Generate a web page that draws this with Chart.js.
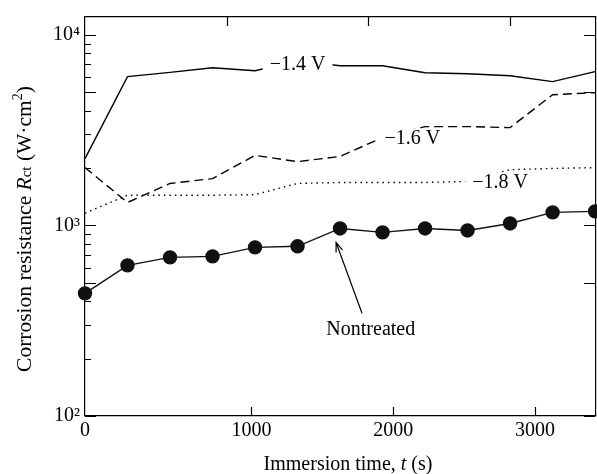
<!DOCTYPE html>
<html lang="en">
<head>
    <meta charset="UTF-8">
    <title>Corrosion resistance vs immersion time</title>
    <script src="https://cdn.jsdelivr.net/npm/chart.js"></script>
    <style>
        html, body {
            margin: 0;
            padding: 0;
            background: #fff;
            overflow: hidden;
        }
        /* the original figure is cropped on the right, so the plot runs past the window edge */
        .chart-box {
            width: 603px;
            height: 474px;
        }
    </style>
</head>
<body>
    <div class="chart-box">
        <canvas id="rctChart"></canvas>
    </div>

    <script>
        // immersion time (s), one reading every 300 s
        const times = [0, 300, 600, 900, 1200, 1500, 1800, 2100, 2400, 2700, 3000, 3300, 3600];

        // Rct values (W·cm²)
        const rct14 = [2240, 6030, 6350, 6720, 6480, 7300, 6880, 6880, 6320, 6250, 6100, 5680, 6410];
        const rct16 = [2010, 1320, 1660, 1760, 2330, 2160, 2300, 2890, 3300, 3300, 3260, 4850, 4970];
        const rct18 = [1160, 1440, 1440, 1440, 1450, 1660, 1680, 1680, 1680, 1700, 1960, 1990, 2010];
        const nontreated = [440, 617, 680, 688, 767, 777, 964, 919, 964, 941, 1024, 1170, 1184];

        // bottom axis: its labels sit a little off the data axis in the original figure
        const xTopTicks = [1000, 2000, 3000];
        const xTickValues = [-175, 1000, 2000, 3000];
        const xTickLabels = ['0', '1000', '2000', '3000'];
        const yTickValues = [100, 200, 300, 400, 500, 600, 700, 800, 900,
                             1000, 2000, 3000, 4000, 5000, 6000, 7000, 8000, 9000, 10000];
        const yLongTicks = [100, 500, 1000, 5000, 10000];
        const yTickLabels = { 100: '10²', 1000: '10³', 10000: '10⁴' };

        const serif = "'Liberation Serif', 'DejaVu Serif', serif";
        Chart.defaults.font.family = serif;
        Chart.defaults.font.size = 20;
        Chart.defaults.color = '#000';

        function series(values) {
            return times.map((t, i) => ({ x: t, y: values[i] }));
        }

        // text labels sitting on white boxes over the curves
        const curveLabels = [
            { text: '−1.4 V', t: 1500, v: 6950 },
            { text: '−1.6 V', t: 2310, v: 2850 },
            { text: '−1.8 V', t: 2930, v: 1680 }
        ];

        const labelPlugin = {
            id: 'curveLabels',
            afterDatasetsDraw(chart) {
                const ctx = chart.ctx;
                const xs = chart.scales.x;
                const ys = chart.scales.y;
                ctx.save();
                ctx.font = '20px ' + serif;
                ctx.textAlign = 'center';
                ctx.textBaseline = 'middle';
                curveLabels.forEach(l => {
                    const px = xs.getPixelForValue(l.t);
                    const py = ys.getPixelForValue(l.v);
                    const w = ctx.measureText(l.text).width;
                    ctx.fillStyle = '#fff';
                    ctx.fillRect(px - w / 2 - 7, py - 10, w + 14, 20);
                    ctx.fillStyle = '#000';
                    ctx.fillText(l.text, px, py);
                });

                // Nontreated label and arrow
                const tx = xs.getPixelForValue(2017);
                const ty = ys.getPixelForValue(282);
                ctx.fillText('Nontreated', tx, ty);
                const ax0 = xs.getPixelForValue(1955), ay0 = ys.getPixelForValue(346);
                const ax1 = xs.getPixelForValue(1772), ay1 = ys.getPixelForValue(814);
                ctx.strokeStyle = '#000';
                ctx.lineWidth = 1.2;
                ctx.beginPath();
                ctx.moveTo(ax0, ay0);
                ctx.lineTo(ax1, ay1);
                const ang = Math.atan2(ay1 - ay0, ax1 - ax0);
                ctx.moveTo(ax1 - 10 * Math.cos(ang - 0.35), ay1 - 10 * Math.sin(ang - 0.35));
                ctx.lineTo(ax1, ay1);
                ctx.lineTo(ax1 - 10 * Math.cos(ang + 0.35), ay1 - 10 * Math.sin(ang + 0.35));
                ctx.stroke();
                ctx.restore();
            }
        };

        // inward tick marks on all four sides (right side only shows the long ones)
        const tickPlugin = {
            id: 'inwardTicks',
            afterDraw(chart) {
                const ctx = chart.ctx;
                const a = chart.chartArea;
                ctx.save();
                ctx.strokeStyle = '#000';
                ctx.lineWidth = 1.2;
                ctx.beginPath();
                ['y', 'y2'].forEach(id => {
                    const s = chart.scales[id];
                    s.ticks.forEach(t => {
                        const long = yLongTicks.includes(t.value);
                        if (id === 'y2' && !long) return;
                        const py = Math.round(s.getPixelForValue(t.value)) + 0.5;
                        const len = long ? 11 : 6;
                        const x0 = id === 'y' ? a.left : a.right;
                        const dir = id === 'y' ? 1 : -1;
                        ctx.moveTo(x0, py);
                        ctx.lineTo(x0 + dir * len, py);
                    });
                });
                ['x', 'x2'].forEach(id => {
                    const s = chart.scales[id];
                    s.ticks.forEach(t => {
                        if (t.value <= s.min) return;
                        const px = Math.round(s.getPixelForValue(t.value)) + 0.5;
                        const y0 = id === 'x' ? a.top : a.bottom;
                        const dir = id === 'x' ? 1 : -1;
                        ctx.moveTo(px, y0);
                        ctx.lineTo(px, y0 + dir * 9);
                    });
                });
                ctx.stroke();
                ctx.restore();
            }
        };

        // axis titles with italic / sub / superscript parts
        function drawRich(ctx, parts, base) {
            const fontOf = p => (p.italic ? 'italic ' : '') + (p.size || base) + 'px ' + serif;
            let total = 0;
            parts.forEach(p => {
                ctx.font = fontOf(p);
                p.w = ctx.measureText(p.text).width;
                total += p.w;
            });
            let x = -total / 2;
            parts.forEach(p => {
                ctx.font = fontOf(p);
                ctx.fillText(p.text, x, p.dy || 0);
                x += p.w;
            });
        }

        const titlePlugin = {
            id: 'axisTitles',
            afterDraw(chart) {
                const ctx = chart.ctx;
                ctx.save();
                ctx.fillStyle = '#000';
                ctx.textBaseline = 'alphabetic';
                ctx.textAlign = 'left';

                ctx.save();
                ctx.translate(348, 470);
                drawRich(ctx, [
                    { text: 'Immersion time, ' },
                    { text: 't', italic: true },
                    { text: ' (s)' }
                ], 20);
                ctx.restore();

                ctx.save();
                ctx.translate(31, 229);
                ctx.rotate(-Math.PI / 2);
                drawRich(ctx, [
                    { text: 'Corrosion resistance ' },
                    { text: 'R', italic: true },
                    { text: 'ct', size: 15 },
                    { text: ' (W·cm' },
                    { text: '2', size: 14, dy: -9 },
                    { text: ')' }
                ], 21.5);
                ctx.restore();
                ctx.restore();
            }
        };

        const axisLine = { display: true, color: '#000', width: 1.2 };
        const noTicks = { drawOnChartArea: false, drawTicks: false, color: '#000', lineWidth: 1.2 };

        new Chart(document.getElementById('rctChart'), {
            type: 'line',
            data: {
                datasets: [
                    {
                        label: '−1.4 V',
                        data: series(rct14),
                        borderColor: '#000',
                        borderWidth: 1.4,
                        pointRadius: 0,
                        tension: 0
                    },
                    {
                        label: '−1.6 V',
                        data: series(rct16),
                        borderColor: '#000',
                        borderWidth: 1.4,
                        borderDash: [9, 5],
                        pointRadius: 0,
                        tension: 0
                    },
                    {
                        label: '−1.8 V',
                        data: series(rct18),
                        borderColor: '#000',
                        borderWidth: 1.4,
                        borderDash: [1.5, 4],
                        pointRadius: 0,
                        tension: 0
                    },
                    {
                        label: 'Nontreated',
                        data: series(nontreated),
                        borderColor: '#111',
                        backgroundColor: '#111',
                        borderWidth: 1.4,
                        pointRadius: 6.5,
                        tension: 0
                    }
                ]
            },
            options: {
                responsive: true,
                maintainAspectRatio: false,
                animation: false,
                events: [],
                clip: false,
                layout: { padding: 0 },
                plugins: {
                    legend: { display: false },
                    tooltip: { enabled: false }
                },
                scales: {
                    x: {
                        type: 'linear',
                        position: 'top',
                        min: 0,
                        max: 3600,
                        border: axisLine,
                        grid: noTicks,
                        afterBuildTicks: scale => {
                            scale.ticks = xTopTicks.map(v => ({ value: v }));
                        },
                        ticks: { display: false },
                        afterFit: scale => { scale.height = 16; }
                    },
                    x2: {
                        type: 'linear',
                        position: 'bottom',
                        min: -175,
                        max: 3425,
                        border: axisLine,
                        grid: noTicks,
                        afterBuildTicks: scale => {
                            scale.ticks = xTickValues.map(v => ({ value: v }));
                        },
                        ticks: {
                            padding: 3,
                            maxRotation: 0,
                            autoSkip: false,
                            callback: (v, i) => xTickLabels[i]
                        },
                        afterFit: scale => { scale.height = 58; }
                    },
                    y: {
                        type: 'logarithmic',
                        position: 'left',
                        min: 100,
                        max: 12400,
                        border: axisLine,
                        grid: noTicks,
                        afterBuildTicks: scale => {
                            scale.ticks = yTickValues.map(v => ({ value: v }));
                        },
                        ticks: {
                            padding: 5,
                            autoSkip: false,
                            callback: v => yTickLabels[v] || ''
                        },
                        afterFit: scale => { scale.width = 85; }
                    },
                    y2: {
                        type: 'logarithmic',
                        position: 'right',
                        min: 100,
                        max: 12400,
                        border: axisLine,
                        grid: noTicks,
                        afterBuildTicks: scale => {
                            scale.ticks = yTickValues.map(v => ({ value: v }));
                        },
                        ticks: { display: false },
                        afterFit: scale => { scale.width = 0; }
                    }
                }
            },
            plugins: [labelPlugin, tickPlugin, titlePlugin]
        });
    </script>
</body>
</html>
